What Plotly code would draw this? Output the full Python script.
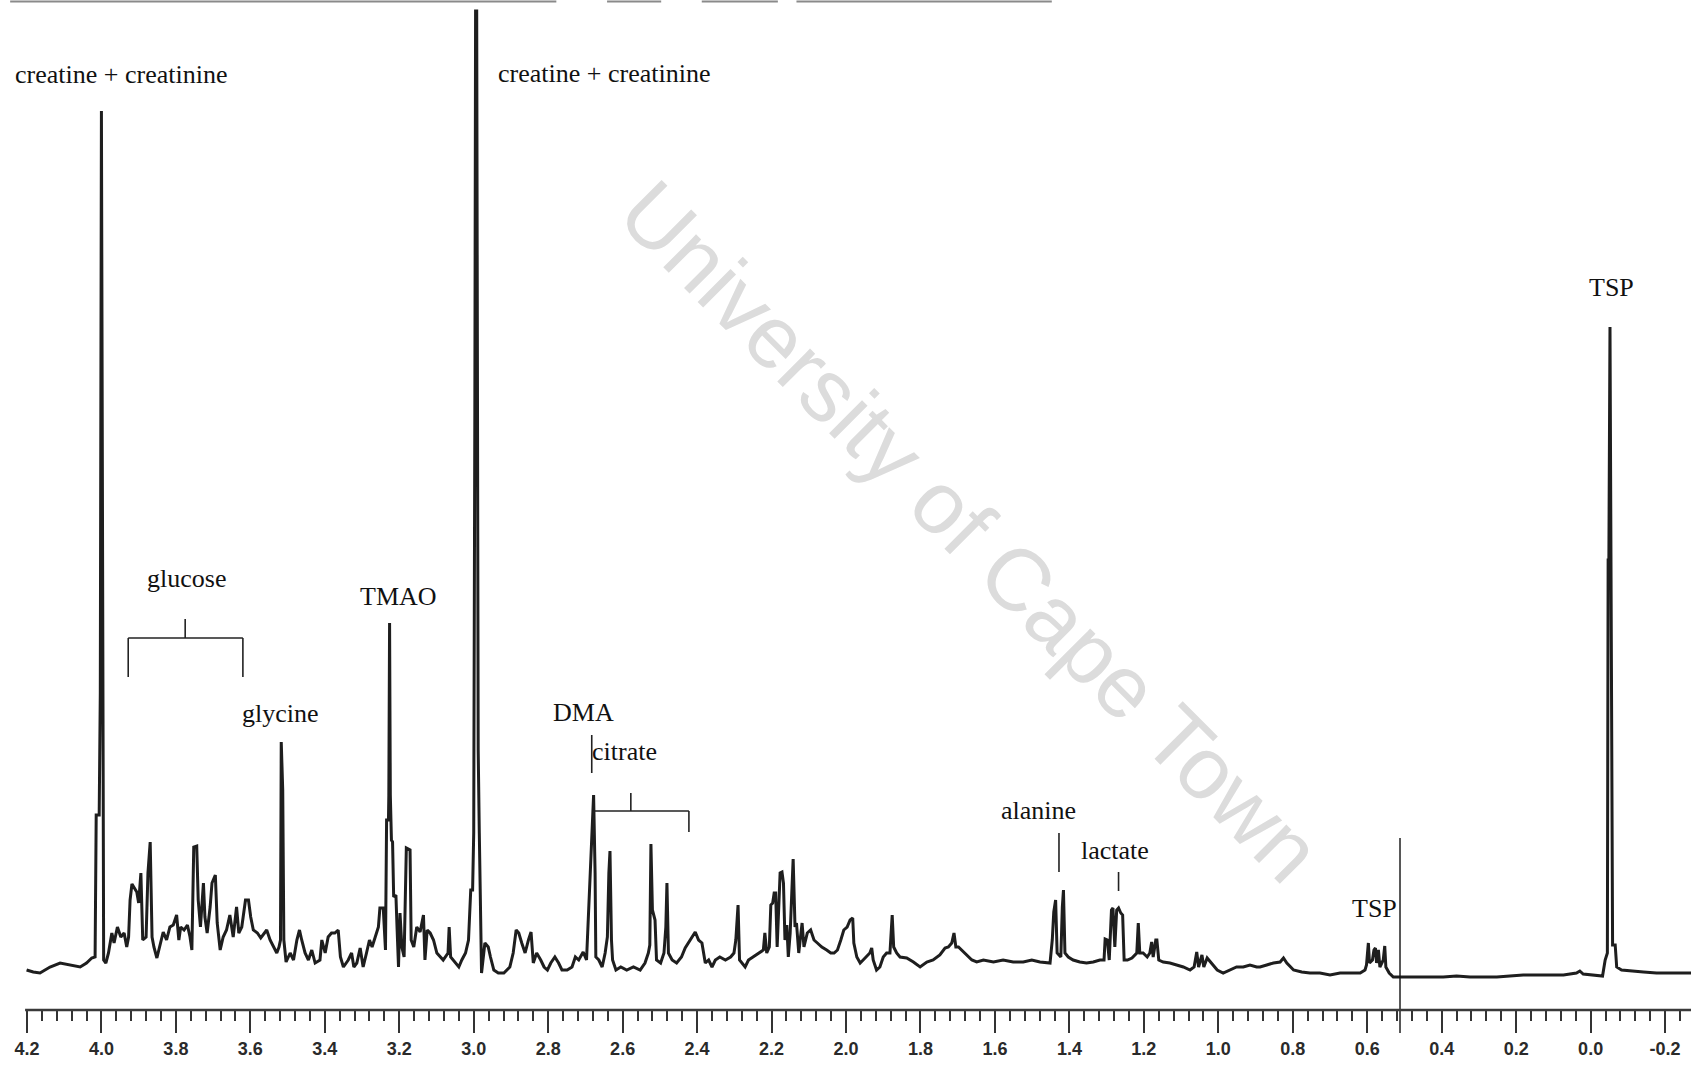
import plotly.graph_objects as go

# 1H NMR spectrum of urine, chemical shift (ppm) vs. relative intensity,
# traced as (shift, intensity) vertices region by region.
region_40_31 = [
    (4.201, 4.0), (4.183, 3.8), (4.165, 3.7), (4.138, 4.3), (4.111, 4.7), (4.084, 4.5),
    (4.057, 4.3), (4.040, 4.7), (4.026, 5.2), (4.017, 5.3), (4.014, 19.5), (4.006, 19.5),
    (4.003, 31.7), (4.000, 89.9), (3.997, 31.7), (3.994, 5.0), (3.988, 4.7), (3.981, 5.7),
    (3.972, 7.7), (3.966, 6.7), (3.957, 8.3), (3.948, 7.3), (3.939, 7.7), (3.932, 6.3),
    (3.927, 7.3), (3.923, 11.0), (3.918, 12.6), (3.911, 12.2), (3.905, 11.8), (3.900, 10.7),
    (3.894, 13.7), (3.889, 7.0), (3.880, 7.3), (3.875, 13.7), (3.869, 16.8), (3.864, 7.3),
    (3.859, 6.3), (3.851, 5.2), (3.843, 6.3), (3.834, 7.8), (3.825, 7.0), (3.816, 8.3),
    (3.807, 8.5), (3.798, 9.5), (3.792, 7.0), (3.787, 8.3), (3.778, 8.0), (3.769, 8.5),
    (3.762, 7.3), (3.757, 6.0), (3.752, 16.3), (3.744, 16.4), (3.740, 11.0), (3.734, 8.3),
    (3.726, 12.7), (3.722, 9.3), (3.716, 7.7), (3.708, 10.3), (3.703, 12.7), (3.694, 13.5),
    (3.689, 8.7), (3.681, 6.0), (3.673, 7.3), (3.664, 8.0), (3.655, 9.5), (3.646, 7.3),
    (3.637, 10.3), (3.631, 7.7), (3.623, 8.3), (3.613, 11.0), (3.605, 11.0), (3.599, 9.3),
    (3.592, 8.0), (3.581, 7.7), (3.572, 7.2), (3.556, 8.0), (3.547, 7.0), (3.538, 6.3),
    (3.529, 5.7), (3.523, 6.3), (3.519, 7.0), (3.517, 26.8), (3.513, 22.0), (3.510, 7.0),
    (3.504, 4.8), (3.493, 5.7), (3.484, 5.0), (3.475, 7.0), (3.468, 8.0), (3.462, 7.0),
    (3.453, 5.7), (3.444, 5.0), (3.435, 6.0), (3.426, 4.7), (3.413, 5.0), (3.408, 7.0),
    (3.399, 5.7), (3.391, 7.3), (3.382, 7.7), (3.373, 7.7), (3.364, 8.0), (3.358, 5.3),
    (3.350, 4.3), (3.337, 5.0), (3.328, 5.7), (3.322, 4.3), (3.314, 4.7), (3.305, 6.2),
    (3.297, 4.3), (3.288, 5.7), (3.280, 7.0), (3.273, 6.3), (3.264, 7.3), (3.256, 8.3),
    (3.252, 10.2), (3.243, 10.2), (3.237, 6.0), (3.234, 19.0), (3.229, 19.0), (3.228, 21.5),
    (3.226, 38.7), (3.224, 21.5), (3.221, 17.0), (3.218, 16.8), (3.215, 11.3), (3.209, 11.5),
    (3.206, 8.3), (3.202, 4.3), (3.198, 9.7), (3.193, 6.3), (3.187, 5.3), (3.181, 16.2),
    (3.171, 16.0), (3.168, 7.0), (3.161, 6.3), (3.153, 8.3), (3.144, 7.8), (3.135, 9.5),
    (3.131, 5.0), (3.125, 8.0),
]

region_31_20 = [
    (3.117, 7.7), (3.108, 7.0), (3.099, 5.7), (3.082, 5.0), (3.069, 5.7), (3.066, 8.3),
    (3.062, 5.3), (3.050, 4.7), (3.040, 4.3), (3.032, 5.0), (3.022, 5.7), (3.014, 7.0),
    (3.008, 12.0), (3.003, 12.0), (3.000, 17.7), (2.997, 60.0), (2.995, 99.9), (2.992, 99.9),
    (2.988, 26.0), (2.985, 17.7), (2.981, 3.7), (2.979, 3.7), (2.970, 6.7), (2.961, 6.3),
    (2.955, 5.3), (2.946, 4.0), (2.934, 3.7), (2.919, 3.7), (2.903, 4.3), (2.894, 5.7),
    (2.886, 8.0), (2.879, 7.7), (2.871, 6.7), (2.862, 5.7), (2.853, 7.0), (2.846, 7.8),
    (2.840, 4.7), (2.831, 5.7), (2.820, 5.0), (2.811, 4.3), (2.802, 4.0), (2.793, 4.7),
    (2.782, 5.3), (2.772, 4.7), (2.763, 4.0), (2.749, 4.0), (2.736, 4.3), (2.727, 5.3),
    (2.718, 5.0), (2.706, 5.8), (2.697, 5.0), (2.689, 12.0), (2.685, 16.0), (2.681, 19.8),
    (2.678, 21.5), (2.674, 13.7), (2.672, 5.3), (2.664, 5.0), (2.655, 4.3), (2.647, 5.7),
    (2.641, 7.3), (2.637, 13.7), (2.634, 15.9), (2.630, 7.0), (2.627, 5.0), (2.618, 4.0),
    (2.605, 4.3), (2.589, 4.0), (2.571, 4.3), (2.553, 4.0), (2.540, 4.7), (2.531, 5.7),
    (2.527, 6.5), (2.524, 16.6), (2.520, 10.0), (2.513, 9.0), (2.509, 5.0), (2.498, 4.7),
    (2.489, 5.7), (2.484, 8.3), (2.481, 12.7), (2.477, 5.7), (2.467, 5.0), (2.455, 4.7),
    (2.442, 5.3), (2.432, 6.2), (2.423, 6.7), (2.414, 7.3), (2.405, 7.8), (2.396, 7.0),
    (2.387, 6.7), (2.378, 4.7), (2.369, 5.0), (2.360, 4.3), (2.351, 5.0), (2.339, 5.3),
    (2.324, 5.0), (2.310, 5.3), (2.301, 5.7), (2.296, 7.0), (2.290, 10.5), (2.286, 5.0),
    (2.271, 4.3), (2.262, 5.0), (2.249, 5.3), (2.235, 5.7), (2.222, 6.0), (2.218, 7.7),
    (2.213, 5.7), (2.206, 6.3), (2.202, 10.5), (2.197, 10.7), (2.193, 11.7), (2.189, 11.7),
    (2.185, 6.3), (2.177, 13.7), (2.172, 13.8), (2.168, 12.7), (2.164, 7.0), (2.159, 8.5),
    (2.155, 5.3), (2.150, 7.7), (2.146, 11.3), (2.142, 15.1), (2.137, 8.3), (2.133, 8.7),
    (2.127, 5.7), (2.118, 8.7), (2.113, 6.3), (2.104, 7.7), (2.095, 8.0), (2.086, 7.0),
    (2.077, 6.7), (2.065, 6.3), (2.052, 6.0), (2.041, 5.7), (2.032, 5.7), (2.023, 6.0),
    (2.014, 7.0), (2.006, 8.0), (1.997, 8.3),
]

region_20_09 = [
    (1.989, 9.0), (1.982, 9.2), (1.979, 6.7), (1.971, 5.3), (1.962, 4.7), (1.954, 5.0),
    (1.945, 5.3), (1.936, 5.7), (1.931, 6.2), (1.927, 5.0), (1.918, 4.0), (1.909, 4.3),
    (1.900, 5.3), (1.891, 5.7), (1.882, 5.7), (1.878, 8.3), (1.876, 9.5), (1.872, 6.3),
    (1.864, 5.7), (1.855, 5.3), (1.837, 5.2), (1.819, 4.8), (1.801, 4.3), (1.783, 4.8),
    (1.766, 5.0), (1.748, 5.5), (1.734, 6.2), (1.725, 6.3), (1.716, 6.7), (1.710, 7.7),
    (1.705, 6.3), (1.698, 6.3), (1.689, 6.0), (1.680, 5.7), (1.671, 5.3), (1.662, 5.0),
    (1.649, 4.8), (1.631, 5.0), (1.604, 4.8), (1.578, 5.0), (1.551, 4.8), (1.524, 4.8),
    (1.501, 5.0), (1.479, 4.8), (1.452, 4.7), (1.446, 7.0), (1.442, 9.8), (1.437, 11.0),
    (1.433, 5.7), (1.423, 5.3), (1.419, 10.3), (1.416, 12.0), (1.412, 5.7), (1.403, 5.3),
    (1.390, 5.0), (1.372, 4.8), (1.354, 4.7), (1.336, 4.8), (1.318, 5.0), (1.307, 5.0),
    (1.304, 7.1), (1.298, 7.0), (1.293, 5.0), (1.287, 10.0), (1.283, 10.2), (1.278, 6.3),
    (1.273, 10.0), (1.268, 10.2), (1.262, 9.7), (1.257, 9.5), (1.253, 5.0), (1.244, 5.0),
    (1.232, 5.2), (1.219, 5.7), (1.215, 8.7), (1.211, 5.7), (1.202, 5.7), (1.191, 5.3),
    (1.184, 5.7), (1.179, 6.8), (1.175, 5.3), (1.168, 7.0), (1.165, 7.0), (1.160, 5.0),
    (1.148, 4.8), (1.130, 4.7), (1.112, 4.5), (1.094, 4.3), (1.076, 4.0), (1.065, 4.3),
    (1.058, 5.8), (1.053, 4.3), (1.044, 5.5), (1.039, 4.3), (1.030, 5.2), (1.021, 4.8),
    (1.012, 4.5), (1.003, 4.0), (0.987, 3.7), (0.969, 4.0), (0.951, 4.3), (0.933, 4.3),
    (0.915, 4.5), (0.897, 4.3),
]

region_09_m03 = [
    (0.888, 4.3), (0.870, 4.5), (0.852, 4.7), (0.834, 4.8), (0.825, 5.2), (0.816, 4.7),
    (0.798, 4.0), (0.776, 3.8), (0.754, 3.7), (0.727, 3.7), (0.700, 3.5), (0.673, 3.7),
    (0.646, 3.7), (0.619, 3.7), (0.606, 4.0), (0.602, 4.5), (0.597, 6.7), (0.594, 4.7),
    (0.586, 5.0), (0.582, 6.0), (0.578, 6.2), (0.575, 4.7), (0.570, 6.0), (0.566, 4.3),
    (0.557, 5.0), (0.553, 6.4), (0.550, 4.3), (0.541, 3.7), (0.530, 3.3), (0.503, 3.3),
    (0.467, 3.3), (0.431, 3.3), (0.396, 3.3), (0.360, 3.4), (0.324, 3.3), (0.288, 3.3),
    (0.252, 3.3), (0.217, 3.4), (0.181, 3.5), (0.145, 3.5), (0.109, 3.5), (0.073, 3.5),
    (0.038, 3.7), (0.029, 3.9), (0.020, 3.6), (-0.007, 3.5), (-0.032, 3.4), (-0.039, 5.0),
    (-0.045, 5.7), (-0.047, 45.0), (-0.049, 45.0), (-0.052, 68.3), (-0.054, 45.0),
    (-0.056, 45.0), (-0.059, 6.5), (-0.066, 6.5), (-0.070, 4.3), (-0.083, 4.0),
    (-0.106, 3.9), (-0.142, 3.8), (-0.177, 3.7), (-0.213, 3.7), (-0.240, 3.7), (-0.270, 3.7),
]

# peak assignments: (text, shift, intensity at text centre)
labels = [
    ("creatine + creatinine", 3.947, 93.6),
    ("creatine + creatinine", 2.650, 93.7),
    ("glucose", 3.771, 43.2),
    ("TMAO", 3.203, 41.4),
    ("glycine", 3.520, 29.7),
    ("DMA", 2.704, 29.8),
    ("citrate", 2.594, 25.9),
    ("alanine", 1.482, 20.0),
    ("lactate", 1.278, 16.0),
    ("TSP", 0.580, 10.2),
    ("TSP", -0.055, 72.3),
]

major_ticks = [4.2, 4.0, 3.8, 3.6, 3.4, 3.2, 3.0, 2.8, 2.6, 2.4, 2.2, 2.0,
               1.8, 1.6, 1.4, 1.2, 1.0, 0.8, 0.6, 0.4, 0.2, 0.0, -0.2]

SHIFT_RANGE = [4.2724, -0.2696]
INT_RANGE = [0, 101]

spectrum = region_40_31 + region_31_20 + region_20_09 + region_09_m03
shift = [p[0] for p in spectrum]
inten = [p[1] for p in spectrum]

fig = go.Figure()
fig.add_trace(go.Scatter(
    x=shift, y=inten, mode="lines",
    line=dict(color="#1e1e1e", width=3.0),
    hoverinfo="skip", showlegend=False,
))


def to_paper_x(ppm):
    return (SHIFT_RANGE[0] - ppm) / (SHIFT_RANGE[0] - SHIFT_RANGE[1])


def to_paper_y(val):
    return (val - INT_RANGE[0]) / (INT_RANGE[1] - INT_RANGE[0])


shapes = []
ink = dict(color="#222222", width=1.6)

# glucose bracket
g_left, g_right, g_mid = 3.928, 3.620, 3.775
shapes += [
    dict(type="line", xref="x", yref="y", x0=g_left, x1=g_right, y0=37.2, y1=37.2, line=ink),
    dict(type="line", xref="x", yref="y", x0=g_left, x1=g_left, y0=37.2, y1=33.3, line=ink),
    dict(type="line", xref="x", yref="y", x0=g_right, x1=g_right, y0=37.2, y1=33.3, line=ink),
    dict(type="line", xref="x", yref="y", x0=g_mid, x1=g_mid, y0=37.2, y1=39.1, line=ink),
]
# DMA marker
shapes.append(dict(type="line", xref="x", yref="y", x0=2.683, x1=2.683, y0=27.5, y1=23.7, line=ink))
# citrate bracket
c_left, c_right, c_mid = 2.678, 2.422, 2.578
shapes += [
    dict(type="line", xref="x", yref="y", x0=c_left, x1=c_right, y0=19.9, y1=19.9, line=ink),
    dict(type="line", xref="x", yref="y", x0=c_left, x1=c_left, y0=19.9, y1=17.5, line=ink),
    dict(type="line", xref="x", yref="y", x0=c_right, x1=c_right, y0=19.9, y1=17.8, line=ink),
    dict(type="line", xref="x", yref="y", x0=c_mid, x1=c_mid, y0=19.9, y1=21.7, line=ink),
]
# alanine and lactate markers
shapes.append(dict(type="line", xref="x", yref="y", x0=1.428, x1=1.428, y0=17.7, y1=13.8, line=ink))
shapes.append(dict(type="line", xref="x", yref="y", x0=1.268, x1=1.268, y0=13.8, y1=11.9, line=ink))
# reference line beside the small TSP label, running through the scale
tsp_x = to_paper_x(0.512)
shapes.append(dict(type="line", xref="paper", yref="paper", x0=tsp_x, x1=tsp_x,
                   y0=to_paper_y(-2.3), y1=to_paper_y(17.2), line=dict(color="#111111", width=1.4)))
# ruler baseline from 4.2 ppm to the right edge
shapes.append(dict(type="line", xref="paper", yref="paper", x0=to_paper_x(4.205), x1=1,
                   y0=0, y1=0, line=dict(color="#3a3a3a", width=2.6)))
# rule fragments along the top edge of the page
for a, b in [(0.006, 0.329), (0.359, 0.391), (0.415, 0.460), (0.471, 0.622)]:
    shapes.append(dict(type="line", xref="paper", yref="paper", x0=a, x1=b, y0=0.9985, y1=0.9985,
                       line=dict(color="#8a8a8a", width=2)))

annotations = []
for text, x, y in labels:
    annotations.append(dict(
        text=text, x=x, y=y, xref="x", yref="y", showarrow=False,
        xanchor="center", yanchor="middle",
        font=dict(family="Liberation Serif, Times New Roman, serif", size=26, color="#111111"),
    ))

# watermark
annotations.append(dict(
    text="University of Cape Town", xref="paper", yref="paper", x=0.574, y=0.474,
    showarrow=False, textangle=45, xanchor="center", yanchor="middle",
    font=dict(family="Liberation Sans, Arial, sans-serif", size=88, color="#dcdcdc"),
))

minor_ticks = [round(4.2 - 0.04 * i, 2) for i in range(0, 113)]
minor_ticks = [v for v in minor_ticks if v >= SHIFT_RANGE[1] and round(v / 0.2, 6) % 1 != 0]

fig.update_layout(
    width=1691, height=1066,
    margin=dict(l=0, r=0, t=0, b=56, pad=0),
    paper_bgcolor="white", plot_bgcolor="white",
    shapes=shapes, annotations=annotations,
    xaxis=dict(
        range=SHIFT_RANGE, showgrid=False, zeroline=False, showline=False,
        tickmode="array", tickvals=major_ticks,
        ticktext=[f"{v:.1f}" for v in major_ticks],
        ticks="outside", ticklen=22, tickwidth=2.2, tickcolor="#333333",
        tickfont=dict(family="Liberation Sans, Arial, sans-serif", size=18, color="#2a2a2a", weight="bold"),
        minor=dict(tickmode="array", tickvals=minor_ticks, ticks="outside",
                   ticklen=10, tickwidth=2.2, tickcolor="#333333", showgrid=False),
    ),
    yaxis=dict(range=INT_RANGE, visible=False, showgrid=False, zeroline=False),
)

fig.write_html("out.html")
